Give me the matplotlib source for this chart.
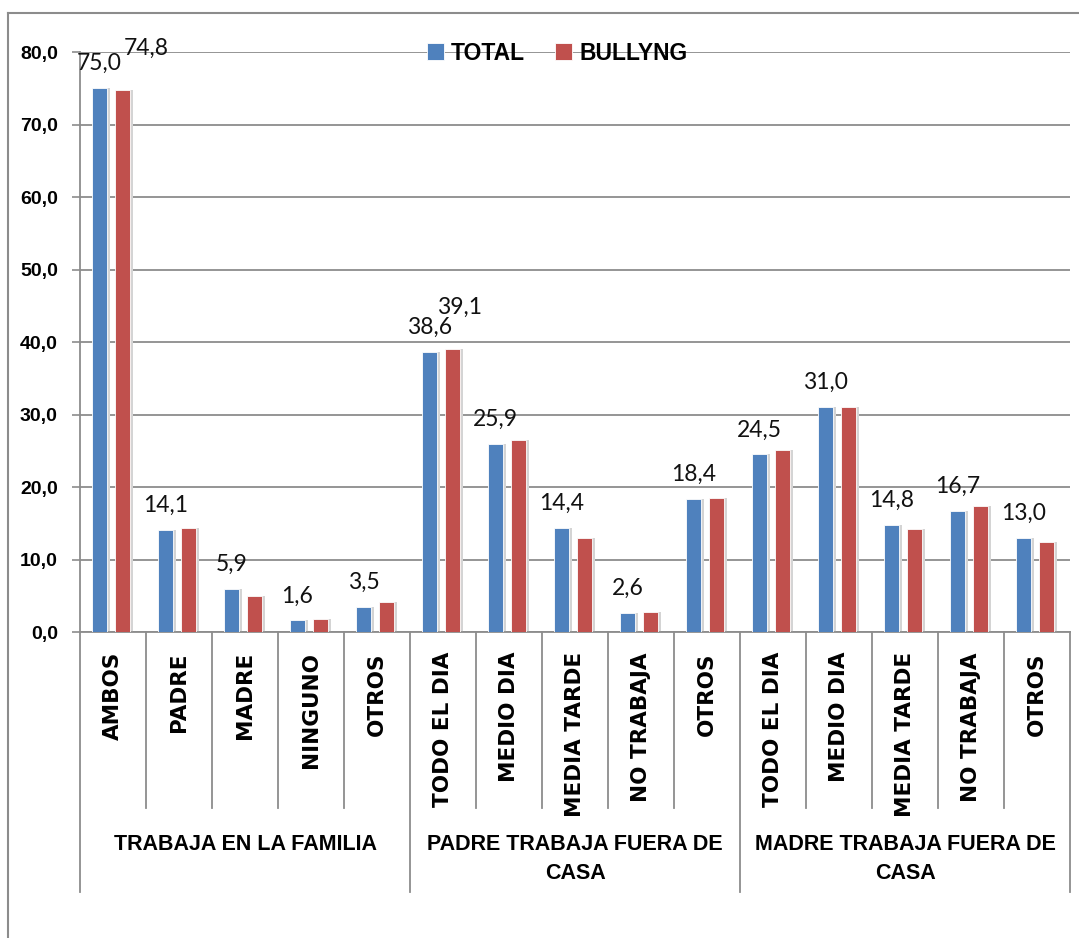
import numpy as np
import matplotlib
matplotlib.use('Agg')
import matplotlib.pyplot as plt
from matplotlib.lines import Line2D

# datos
categorias = ['AMBOS', 'PADRE', 'MADRE', 'NINGUNO', 'OTROS',
              'TODO EL DIA', 'MEDIO DIA', 'MEDIA TARDE', 'NO TRABAJA', 'OTROS',
              'TODO EL DIA', 'MEDIO DIA', 'MEDIA TARDE', 'NO TRABAJA', 'OTROS']
grupos = ['TRABAJA EN LA FAMILIA', 'PADRE TRABAJA FUERA DE\nCASA', 'MADRE TRABAJA FUERA DE\nCASA']
total = [75.0, 14.1, 5.9, 1.6, 3.5,
         38.6, 25.9, 14.4, 2.6, 18.4,
         24.5, 31.0, 14.8, 16.7, 13.0]
bullyng = [74.8, 14.4, 5.0, 1.8, 4.2,
           39.1, 26.5, 13.0, 2.8, 18.5,
           25.1, 31.1, 14.2, 17.4, 12.4]
etiquetas_bullyng = [0, 5]   # solo estas barras rojas llevan etiqueta
yticks = [0, 10, 20, 30, 40, 50, 60, 70, 80]

c_total = '#4F81BD'
c_bully = '#C0504D'
gris = '#8C8C8C'
negrita = ['Liberation Sans', 'DejaVu Sans']

W, H = 1079, 938
fig = plt.figure(figsize=(W / 100, H / 100), dpi=100)
ax = fig.add_axes([80 / W, 1 - 632 / H, 990 / W, 580 / H])

x = np.arange(len(categorias))
bw = 0.225
off_t, off_b = -0.205, 0.146

# sombras
ax.bar(x + off_t + 0.04, total, bw, color='#d4d4d4', zorder=2)
ax.bar(x + off_b + 0.04, bullyng, bw, color='#d4d4d4', zorder=2)
ax.bar(x + off_t, total, bw, color=c_total, edgecolor='white', linewidth=0.6,
       zorder=3, label='TOTAL')
ax.bar(x + off_b, bullyng, bw, color=c_bully, edgecolor='white', linewidth=0.6,
       zorder=3, label='BULLYNG')

def fmt(v):
    return ('%.1f' % v).replace('.', ',')

lbl_font = dict(family=['Lato', 'DejaVu Sans'], fontsize=16.5, color='#111111')
for i, v in enumerate(total):
    ax.annotate(fmt(v), (x[i] + off_t, v), xytext=(0, 18), textcoords='offset pixels',
                ha='center', va='baseline', zorder=5, **lbl_font)
red_dx = {0: 24, 5: 7}
for i in etiquetas_bullyng:
    ax.annotate(fmt(bullyng[i]), (x[i] + off_b, bullyng[i]), xytext=(red_dx[i], 35),
                textcoords='offset pixels', ha='center', va='baseline', zorder=5, **lbl_font)

ax.set_xlim(-0.5, len(categorias) - 0.5)
ax.set_ylim(0, 80)
ax.set_yticks(yticks)
ax.set_yticklabels([fmt(t) for t in yticks], family=negrita,
                   fontweight='bold', fontsize=14)
ax.tick_params(axis='y', length=6, width=1.2, color=gris, pad=10)
ax.set_xticks([])
ax.yaxis.grid(True, color=gris, linewidth=1.3, zorder=0)
ax.set_axisbelow(True)
for s in ['top', 'right']:
    ax.spines[s].set_visible(False)
ax.spines['left'].set_color(gris)
ax.spines['left'].set_linewidth(1.3)
ax.spines['bottom'].set_color(gris)
ax.spines['bottom'].set_linewidth(1.3)

# eje de categorias en dos niveles
tr = ax.get_xaxis_transform()
y_in = -176 / 580
y_grp = -260 / 580
for k in range(len(categorias) + 1):
    bnd = k - 0.5
    yb = y_grp if k % 5 == 0 else y_in
    ax.add_line(Line2D([bnd, bnd], [0, yb], transform=tr, color=gris, lw=1.3,
                       clip_on=False))
for i, c in enumerate(categorias):
    ax.text(x[i], -20 / 580, c, transform=tr, rotation=90, ha='center', va='top',
            family=['Liberation Sans Narrow', 'DejaVu Sans'], fontweight='bold',
            fontsize=15.5)
for g, name in enumerate(grupos):
    ax.text(g * 5 + 2, -202 / 580, name, transform=tr, ha='center', va='top',
            family=negrita, fontweight='bold', fontsize=15.5,
            linespacing=1.5)

leg = ax.legend(loc='center', bbox_to_anchor=(0.482, 0.998), ncol=2, frameon=False,
                handlelength=0.75, handleheight=0.75, handletextpad=0.3,
                columnspacing=1.3, prop=dict(family=negrita, weight='bold', size=16.5))

# marco del grafico
fig.add_artist(Line2D([8 / W, 1], [1 - 13 / H, 1 - 13 / H], color=gris, lw=1.5))
fig.add_artist(Line2D([8 / W, 8 / W], [0, 1 - 13 / H], color=gris, lw=1.5))

fig.savefig('out.png', dpi=100)
